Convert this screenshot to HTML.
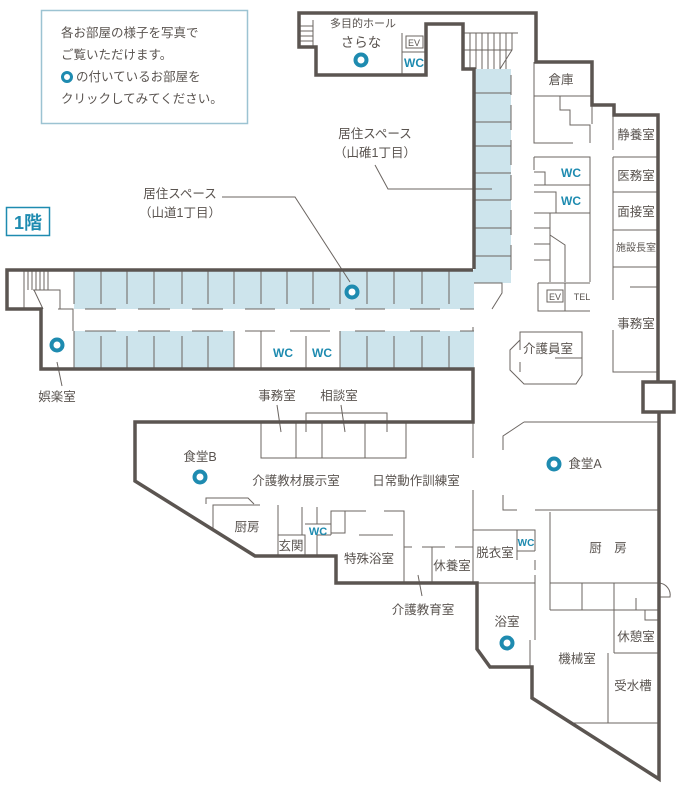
<!DOCTYPE html>
<html><head><meta charset="utf-8"><style>
body{margin:0;background:#fff;}
svg{display:block;font-family:"Liberation Sans","Noto Sans CJK JP",sans-serif;}
.t{fill:#5a5450;font-size:12.5px;}
.w{fill:#1e8bb0;font-weight:bold;font-size:12px;}
</style></head><body>
<svg width="688" height="794" viewBox="0 0 688 794" xmlns="http://www.w3.org/2000/svg">
<rect x="41.5" y="10.5" width="206" height="113" fill="#fff" stroke="#9cc3d2" stroke-width="1.5"/>
<text class="t" x="61" y="37">各お部屋の様子を写真で</text>
<text class="t" x="61" y="59">ご覧いただけます。</text>
<circle cx="67" cy="77" r="4.5" fill="#fff" stroke="#1e8bb0" stroke-width="3"/>
<text class="t" x="76" y="81">の付いているお部屋を</text>
<text class="t" x="61" y="103">クリックしてみてください。</text>
<rect x="6.5" y="207.5" width="43" height="28" fill="#fff" stroke="#1e8bb0" stroke-width="1.5"/>
<text x="28" y="229" text-anchor="middle" fill="#1e8bb0" font-weight="bold" font-size="18">1階</text>

<g fill="#cde4ec">
<rect x="74" y="270" width="400" height="39"/>
<rect x="74" y="331" width="160" height="38"/>
<rect x="340" y="331" width="134" height="38"/>
<rect x="474" y="69" width="37" height="214"/>
</g>
<g stroke="#6b6561" stroke-width="1" fill="none">
<path d="M74 270V304M101 270V304M127 270V304M154 270V304M182 270V304M208 270V304M234 270V304M261 270V304M287 270V304M313 270V304M340 270V304M367 270V304M394 270V304M422 270V304M449 270V304"/>
<path d="M74 369V331M101 369V336M127 369V336M154 369V336M182 369V336M208 369V336M234 369V331M261 369V331M306 369V336M340 369V331M367 369V336M394 369V336M422 369V336M449 369V336"/>
<path d="M85 309H116M138 309H170M192 309H223M245 309H275M300 309H330M355 309H385M410 309H440M460 309H474" />
<path d="M85 331H116M138 331H170M192 331H223M245 331H275M290 331H330M355 331H385M410 331H440M460 331H474M473 331V327"/>
<path d="M474 93H511M474 122H511M474 146H511M474 173H511M474 200H511M474 228H511M474 256H511"/>
<path d="M511 75V95M511 105V130M511 140V165M511 175V200M511 210V235M511 245V270"/>
<path d="M474 283H502V293L492 309"/>
<path d="M58 309H73V331M60 331"/>
<path d="M24 270V309M28 270V290M32 270V290M36 270V290M40 270V290M44 270V290M48 270V290M33 290H60V309M34 290L43 309"/>
<path d="M463 33H518M470 33V69M476 33V69M482 33V69M488 33V69M494 33V69M500 33V69M506 33V69M512 33V50L500 69M463 50H512"/>
<path d="M299 26H313M299 31H313M299 36H313M299 41H313M313 20V47"/>
<path d="M402 33V75M402 52H426"/>
<rect x="406" y="36" width="17" height="12"/>
<path d="M534 62V143H573M534 96H592M560 96V110H570V125H590V143M592 96V124M592 105V124"/>
<path d="M534 157H590V282M534 185H590M534 213H590M534 157V170M534 172H545V185M534 192H556V213"/>
<path d="M550 213V282M534 228H550M534 244H550M534 260H550M550 235L565 245V282"/>
<path d="M538 283V311H590M538 283H590M565 283V311"/>
<rect x="547" y="290" width="16" height="12"/>
<path d="M613 115V150M613 157H658M613 192H658M613 230H658M613 267H658M613 157V300M613 330V372H658M630 287H658"/>
<path d="M520 332H582V375L576 384H524L510 370V350L520 340ZM520 340V350M520 362V372M555 358H582"/>
<path d="M261 422V458H406V422M296 422V458M322 422V458M365 422V458"/>
<path d="M306 432V413H387V432"/>
<path d="M277 405L281 432M341 405L345 432M418 575L422 596"/>
<path d="M206 504V498H248L254 504M213 530V505H260M278 505V556M278 535H305V556M302 507V535M317 507V524M305 524H331V535M317 556V535H331"/>
<path d="M331 511H345V533H331ZM345 511H366M384 511H404V583M359 535H393"/>
<path d="M404 547H412M422 547H445M455 547H473M432 547V583"/>
<path d="M473 422V458M473 490V583M473 530H517V551M517 530H535V551M517 551H535M517 551V560M535 560V570M535 575V583M473 583H535M535 583V640M530 640V667"/>
<path d="M524 422H659M524 422L503 436V450M503 495V510H517M535 510H659"/>
<path d="M550 512V610M550 583H659M550 610H659M582 583V610M614 583V653M614 653H659M608 653V723M573 723H659M636 610H659V634"/>
<path d="M636 598V610H645V620H659"/>
<path d="M659 583A12 12 0 0 1 670 597H659"/>
<path d="M222 197H295L350 282M375 165L388 189H492M57 362L62 386"/>
</g>
<g stroke="#5b5551" stroke-width="3.5" fill="none" stroke-linejoin="miter">
<path d="M474 269V69H463V24H426V75H316V47H299V13H536V62H592V105H614V115H658V382"/>
<path d="M473 270H7V309H41V369H473V422H135V481L255 556H336V583H477V649L490 667H532V698L659 779V412"/>
<rect x="643" y="382" width="31" height="30"/>
</g>
<g fill="#fff" stroke="#1e8bb0" stroke-width="4">
<circle cx="361" cy="60" r="5.5"/><circle cx="352" cy="292" r="5.5"/><circle cx="57" cy="345" r="5.5"/>
<circle cx="200" cy="477" r="5.5"/><circle cx="554" cy="464" r="5.5"/><circle cx="507" cy="643" r="5.5"/>
</g>
<g class="t" text-anchor="middle">
<text x="363" y="27" font-size="11">多目的ホール</text>
<text x="361" y="47" font-size="13.5">さらな</text>
<text x="375" y="138">居住スペース</text><text x="375" y="157">（山碓1丁目）</text>
<text x="180" y="198">居住スペース</text><text x="180" y="217">（山道1丁目）</text>
<text x="561" y="84">倉庫</text>
<text x="636" y="139">静養室</text><text x="636" y="180">医務室</text><text x="636" y="216">面接室</text>
<text x="636" y="251" font-size="10">施設長室</text><text x="636" y="328">事務室</text>
<text x="548" y="353">介護員室</text>
<text x="57" y="401">娯楽室</text>
<text x="277" y="400">事務室</text><text x="339" y="400">相談室</text>
<text x="200" y="461">食堂B</text>
<text x="296" y="485">介護教材展示室</text><text x="416" y="485">日常動作訓練室</text>
<text x="585" y="468">食堂A</text>
<text x="247" y="531">厨房</text><text x="291" y="550">玄関</text>
<text x="369" y="563">特殊浴室</text><text x="452" y="570">休養室</text><text x="495" y="557">脱衣室</text>
<text x="608" y="552">厨　房</text>
<text x="423" y="614">介護教育室</text>
<text x="507" y="626">浴室</text>
<text x="636" y="641">休憩室</text><text x="577" y="663">機械室</text><text x="633" y="690">受水槽</text>
<text x="414" y="46" font-size="9">EV</text>
<text x="555" y="300" font-size="9">EV</text>
<text x="582" y="300" font-size="9">TEL</text>
</g>
<g class="w" text-anchor="middle">
<text x="414" y="67">WC</text><text x="571" y="177">WC</text><text x="571" y="205">WC</text>
<text x="283" y="357">WC</text><text x="322" y="357">WC</text>
<text x="318" y="535" font-size="11">WC</text><text x="526" y="546" font-size="10">WC</text>
</g>
</svg>
</body></html>
